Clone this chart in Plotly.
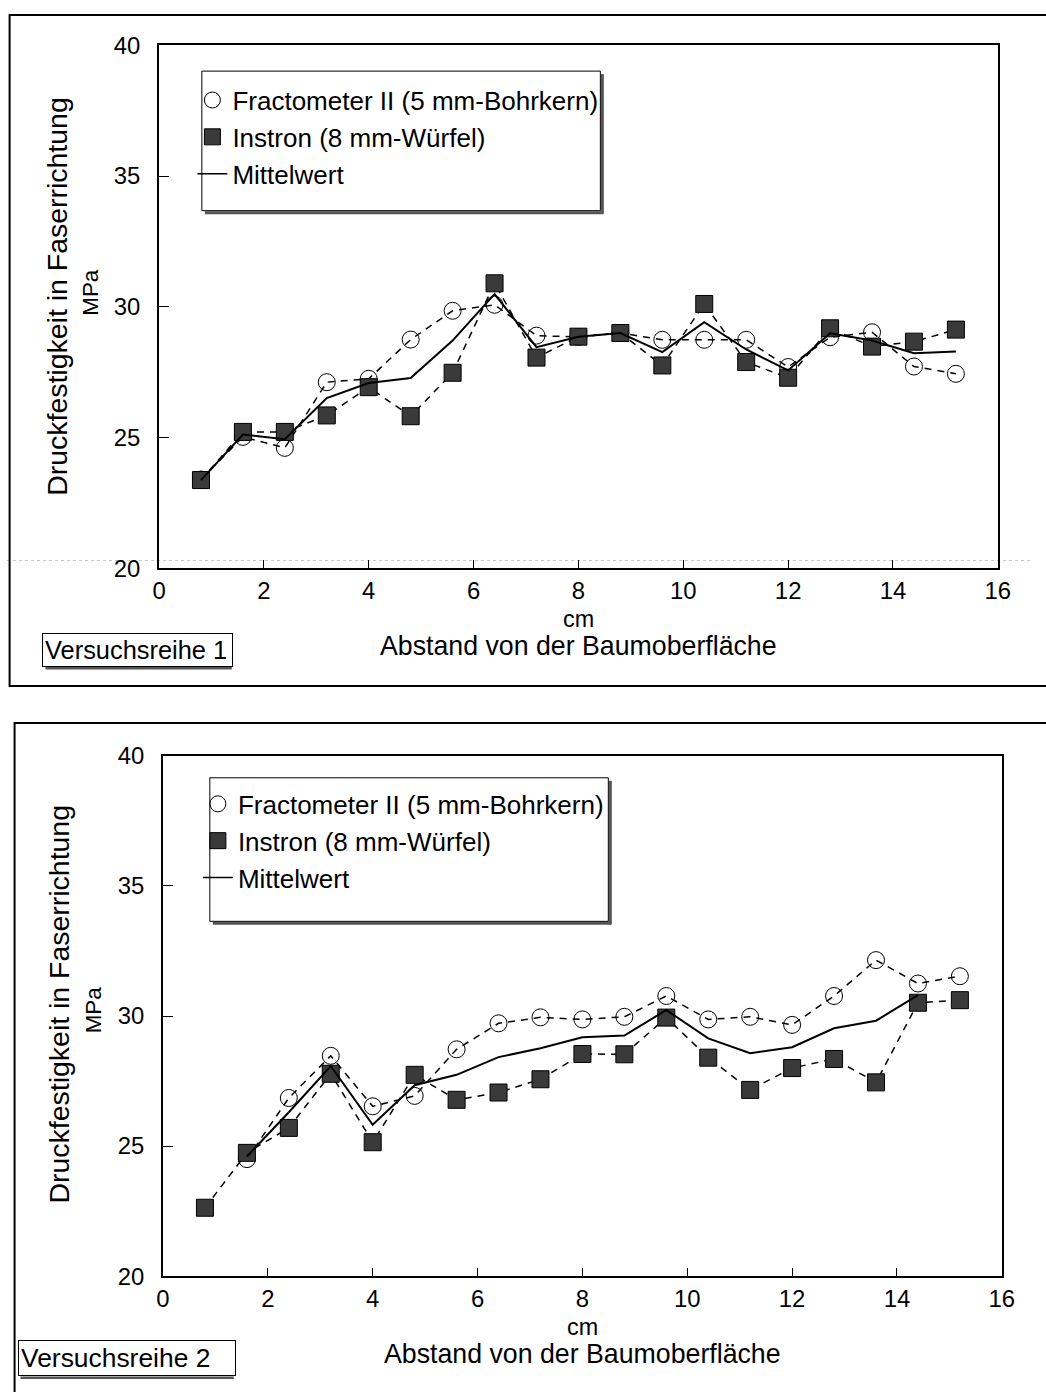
import plotly.graph_objects as go

W, H = 1046, 1392

# ---------------- data ----------------
x_all = [0.8, 1.6, 2.4, 3.2, 4.0, 4.8, 5.6, 6.4, 7.2, 8.0, 8.8, 9.6, 10.4, 11.2, 12.0, 12.8, 13.6, 14.4, 15.2]

# Versuchsreihe 1
fracto1_x = x_all
fracto1_y = [23.4, 25.03, 24.61, 27.12, 27.25, 28.75, 29.85, 30.08, 28.90, 28.85, 29.0, 28.74, 28.74, 28.74, 27.70, 28.84, 29.03, 27.72, 27.44]
instron1_x = x_all
instron1_y = [23.38, 25.22, 25.22, 25.85, 26.93, 25.82, 27.48, 30.90, 28.06, 28.86, 29.00, 27.76, 30.11, 27.89, 27.29, 29.18, 28.48, 28.67, 29.13]
mean1_x = x_all
mean1_y = [23.38, 25.12, 24.94, 26.51, 27.09, 27.28, 28.71, 30.49, 28.46, 28.86, 29.0, 28.27, 29.41, 28.37, 27.57, 28.99, 28.71, 28.23, 28.29]

# Versuchsreihe 2
fracto2_x = x_all[1:]
fracto2_y = [24.5, 26.85, 28.47, 26.53, 26.93, 28.72, 29.72, 29.95, 29.87, 29.97, 30.77, 29.87, 29.97, 29.66, 30.77, 32.15, 31.25, 31.53]
instron2_x = x_all
instron2_y = [22.63, 24.74, 25.70, 27.78, 25.15, 27.74, 26.78, 27.06, 27.57, 28.54, 28.53, 29.94, 28.40, 27.16, 28.0, 28.35, 27.45, 30.51, 30.61]
mean2_x = x_all[1:18]
mean2_y = [24.6, 26.3, 28.08, 25.82, 27.34, 27.74, 28.42, 28.76, 29.18, 29.25, 30.23, 29.14, 28.57, 28.80, 29.53, 29.82, 30.8]

names = ["Fractometer II (5 mm-Bohrkern)", "Instron (8 mm-Würfel)", "Mittelwert"]
x_title_unit = "cm"
x_title = "Abstand von der Baumoberfläche"
y_title = "Druckfestigkeit in Faserrichtung"
y_unit = "MPa"
panel_labels = ["Versuchsreihe 1", "Versuchsreihe 2"]
x_ticks = [0, 2, 4, 6, 8, 10, 12, 14, 16]
y_ticks = [20, 25, 30, 35, 40]

FONT = "Liberation Sans, Arial, sans-serif"

# The photographed page appears slightly scaled/offset; positions below are given in
# target-picture pixels and converted to figure pixels.
SX, OX = 0.9846, 4.4
SY, OY = 0.9838, 10.7


def fxp(d):
    return (d - OX) / SX


def fyp(d):
    return (d - OY) / SY


def px(d):
    return fxp(d) / W


def py(d):
    return 1 - fyp(d) / H


def fs(size):
    return size / SY


fig = go.Figure()

circle_marker = dict(symbol="circle-open", size=17, color="black", line=dict(width=1, color="black"))
square_marker = dict(symbol="square", size=17, color="#3a3a3a", line=dict(width=1, color="black"))
dash_line = dict(color="black", width=1.5, dash="7px,6px")
solid_line = dict(color="black", width=2)

panels = [
    ("x", "y", "legend", fracto1_x, fracto1_y, instron1_x, instron1_y, mean1_x, mean1_y),
    ("x2", "y2", "legend2", fracto2_x, fracto2_y, instron2_x, instron2_y, mean2_x, mean2_y),
]

for xa, ya, lg, fx, fy, ix, iy, mx, my in panels:
    fig.add_trace(go.Scatter(x=fx, y=fy, mode="lines+markers", line=dash_line, marker=circle_marker,
                             xaxis=xa, yaxis=ya, showlegend=False))
    fig.add_trace(go.Scatter(x=ix, y=iy, mode="lines+markers", line=dash_line, marker=square_marker,
                             xaxis=xa, yaxis=ya, showlegend=False))
    fig.add_trace(go.Scatter(x=mx, y=my, mode="lines", line=solid_line,
                             xaxis=xa, yaxis=ya, showlegend=False))
    # legend entries
    fig.add_trace(go.Scatter(x=[None], y=[None], mode="markers", marker=circle_marker, name=names[0],
                             xaxis=xa, yaxis=ya, legend=lg))
    fig.add_trace(go.Scatter(x=[None], y=[None], mode="markers", marker=square_marker, name=names[1],
                             xaxis=xa, yaxis=ya, legend=lg))
    fig.add_trace(go.Scatter(x=[None], y=[None], mode="lines", line=dict(color="black", width=1.5), name=names[2],
                             xaxis=xa, yaxis=ya, legend=lg))

axis_common = dict(showline=True, mirror=True, linewidth=2, linecolor="black", showgrid=False,
                   zeroline=False, ticks="inside", tickcolor="black",
                   tickfont=dict(family=FONT, size=fs(23.5), color="black"))

# panel geometry (target pixels)
top = dict(l=157, r=999, t=42, b=567)
bot = dict(l=161, r=1003, t=755, b=1277)

fig.update_layout(
    width=W, height=H, margin=dict(l=0, r=0, t=0, b=0),
    paper_bgcolor="white", plot_bgcolor="white",
    font=dict(family=FONT, color="black"),
    xaxis=dict(domain=[px(top["l"]), px(top["r"])], range=[0, 16], tickvals=x_ticks, ticklen=8,
               ticklabelstandoff=0, anchor="y", **axis_common),
    yaxis=dict(domain=[py(top["b"]), py(top["t"])], range=[20, 40], tickvals=y_ticks, ticklen=10,
               ticklabelstandoff=12, anchor="x", **axis_common),
    xaxis2=dict(domain=[px(bot["l"]), px(bot["r"])], range=[0, 16], tickvals=x_ticks, ticklen=8,
                ticklabelstandoff=0, anchor="y2", **axis_common),
    yaxis2=dict(domain=[py(bot["b"]), py(bot["t"])], range=[20, 40], tickvals=y_ticks, ticklen=10,
                ticklabelstandoff=12, anchor="x2", **axis_common),
    legend=dict(x=px(190.5), y=py(73.5), xanchor="left", yanchor="top", bgcolor="rgba(0,0,0,0)",
                borderwidth=0, font=dict(family=FONT, size=fs(25.6), color="black"), itemwidth=30),
    legend2=dict(x=px(196), y=py(779.6), xanchor="left", yanchor="top", bgcolor="rgba(0,0,0,0)",
                 borderwidth=0, font=dict(family=FONT, size=fs(25.6), color="black"), itemwidth=30),
)

shapes = []
# outer panel frames
shapes.append(dict(type="rect", xref="paper", yref="paper", x0=px(7), x1=1.02, y0=py(685), y1=1 - 1.0 / H,
                   line=dict(color="black", width=2)))
shapes.append(dict(type="rect", xref="paper", yref="paper", x0=px(12), x1=1.02, y0=-0.02, y1=py(722),
                   line=dict(color="black", width=2)))
# faint scan line in upper panel
shapes.append(dict(type="line", xref="paper", yref="paper", x0=0, x1=1, y0=py(559), y1=py(559),
                   line=dict(color="#c8c8c8", width=1, dash="dot"), layer="below"))
# legend boxes with shadow
for (l, t, r, b) in [(200, 68, 600, 208), (208, 777, 608, 921)]:
    shapes.append(dict(type="line", xref="paper", yref="paper", x0=px(l + 3), x1=px(r + 3), y0=py(b + 2), y1=py(b + 2),
                       line=dict(color="#555555", width=3)))
    shapes.append(dict(type="line", xref="paper", yref="paper", x0=px(r + 2), x1=px(r + 2), y0=py(t + 3), y1=py(b + 3),
                       line=dict(color="#555555", width=3)))
    shapes.append(dict(type="rect", xref="paper", yref="paper", x0=px(l), x1=px(r), y0=py(b), y1=py(t),
                       line=dict(color="black", width=1)))
# shadows under the "Versuchsreihe" boxes
for (l, r, b) in [(40, 228, 665), (15, 230, 1377)]:
    shapes.append(dict(type="line", xref="paper", yref="paper", x0=px(l + 3), x1=px(r + 2), y0=py(b + 2), y1=py(b + 2),
                       line=dict(color="#555555", width=2.5)))

fig.update_layout(shapes=shapes)

ann = []
for (cy_t, cy_u, ytx, yux, axis_b, cx, lab, box_l, box_w, lab_fs) in [
    (294, 290, 55, 88, 567, 578, panel_labels[0], 40, 188, 25),
    (1004, 1010, 57, 91, 1277, 582, panel_labels[1], 15, 215, 26),
]:
    ann.append(dict(text=y_title, x=px(ytx), y=py(cy_t), xref="paper", yref="paper", textangle=-90,
                    showarrow=False, font=dict(family=FONT, size=fs(28), color="black"),
                    xanchor="center", yanchor="middle"))
    ann.append(dict(text=y_unit, x=px(yux), y=py(cy_u), xref="paper", yref="paper", textangle=-90,
                    showarrow=False, font=dict(family=FONT, size=fs(22), color="black"),
                    xanchor="center", yanchor="middle"))
    ann.append(dict(text=x_title_unit, x=px(cx), y=py(axis_b + 51), xref="paper", yref="paper",
                    showarrow=False, font=dict(family=FONT, size=fs(23), color="black"),
                    xanchor="center", yanchor="middle"))
    ann.append(dict(text=x_title, x=px(cx), y=py(axis_b + 78), xref="paper", yref="paper",
                    showarrow=False, font=dict(family=FONT, size=fs(26.3), color="black"),
                    xanchor="center", yanchor="middle"))
    ann.append(dict(text=lab, x=px(box_l), y=py(axis_b + 82), xref="paper", yref="paper",
                    showarrow=False, font=dict(family=FONT, size=fs(lab_fs), color="black"),
                    xanchor="left", yanchor="middle", bordercolor="black", borderwidth=1,
                    borderpad=2, bgcolor="white", width=(box_w - 6) / SX, align="left"))
fig.update_layout(annotations=ann)

fig.write_html("out.html")
